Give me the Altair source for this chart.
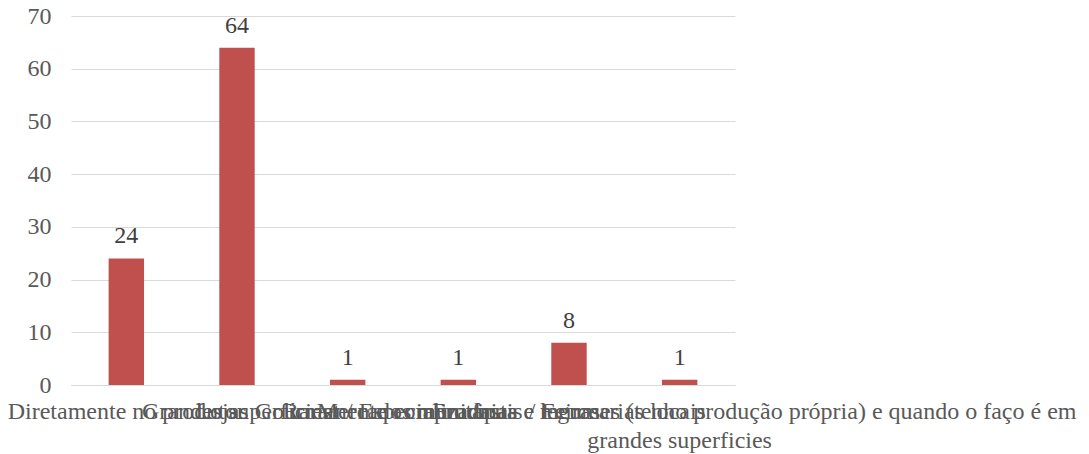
import altair as alt
import pandas as pd

# Where fruit and vegetables are usually bought (number of answers)
categories = [
    "Diretamente no produtor",
    "Grandes superfícies",
    "Lojas Gourmet / Especializadas",
    "Mercados municipais / Feiras",
    "Frutarias e mercearias locais",
    "Raramente compro fruta e legumes (tenho produção própria) e quando o faço é em|grandes superficies",
]
values = [24, 64, 1, 1, 8, 1]

df = pd.DataFrame({"categoria": categories, "valor": values})

font = "Liberation Serif"

x = alt.X(
    "categoria:N",
    sort=None,
    title=None,
    scale=alt.Scale(paddingInner=0.68, paddingOuter=0.34),
    axis=alt.Axis(
        labelAngle=0,
        labelFont=font,
        labelFontSize=24,
        labelColor="#595959",
        labelLimit=0,
        labelOverlap=False,
        labelPadding=14,
        labelLineHeight=29,
        labelExpr="split(datum.label, '|')",
        ticks=False,
        domainColor="#d9d9d9",
        domainWidth=1,
    ),
)

y = alt.Y(
    "valor:Q",
    title=None,
    scale=alt.Scale(domain=[0, 70], nice=False),
    axis=alt.Axis(
        values=[0, 10, 20, 30, 40, 50, 60, 70],
        labelFont=font,
        labelFontSize=24,
        labelColor="#595959",
        labelPadding=20,
        ticks=False,
        domain=False,
        gridColor="#d9d9d9",
        gridWidth=1,
    ),
)

bars = alt.Chart(df).mark_bar(color="#C0504D").encode(x=x, y=y)

labels = alt.Chart(df).mark_text(
    baseline="bottom",
    dy=-10,
    font=font,
    fontSize=24,
    color="#404040",
).encode(x=x, y=y, text="valor:Q")

chart = (
    alt.layer(bars, labels)
    .properties(
        width=664,
        height=369,
        autosize=alt.AutoSizeParams(type="none"),
        padding={"left": 71, "top": 16, "right": 354, "bottom": 69},
    )
    .configure_view(stroke=None)
)

chart.save("out.html", embed_options={"renderer": "svg", "actions": False})
